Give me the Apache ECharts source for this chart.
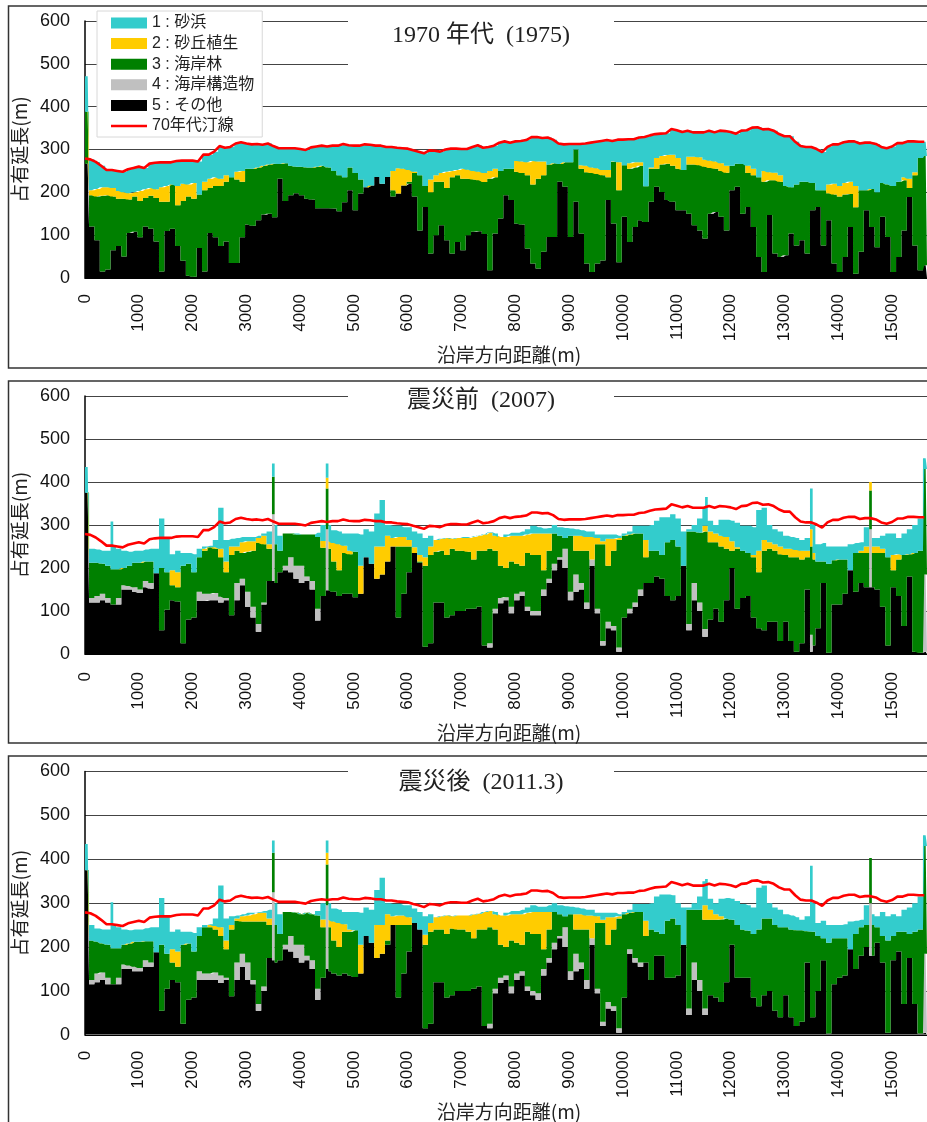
<!DOCTYPE html>
<html><head><meta charset="utf-8">
<script src="https://cdn.jsdelivr.net/npm/echarts@6/dist/echarts.min.js"></script>
<style>html,body{margin:0;padding:0;background:#fff}#c{width:927px;height:1122px}</style>
</head><body><div id="c"></div>
<script>
// readings every 100 m, 0 .. 15600 m; each is the running top of a stacked layer (m). 0 = layer absent.
const shoreline70=[279,277,271,262,252,252,250,248,254,257,
260,257,267,269,270,270,270,273,274,274,
274,272,288,288,295,308,304,306,314,317,
314,312,313,311,314,308,303,303,303,303,
301,299,305,307,309,307,309,309,313,310,
309,309,312,311,309,309,306,306,304,303,
302,298,295,291,298,297,295,300,302,302,
301,301,306,310,304,306,309,316,319,316,
319,320,322,329,329,327,328,323,314,312,
313,313,313,314,316,318,320,322,320,323,
323,324,324,328,329,333,336,337,338,348,
345,341,344,340,340,340,344,340,344,343,
341,337,344,345,351,352,347,348,344,336,
331,331,318,308,306,306,301,294,306,312,
312,317,319,319,314,316,316,313,306,303,
307,315,315,319,319,318,318];

const black1=[160,120,88,15,20,65,75,50,105,108,
95,120,115,85,15,110,115,75,40,5,
3,70,15,105,95,75,85,35,35,95,
125,122,135,148,150,142,232,180,193,198,
193,185,183,163,163,163,162,156,177,205,
158,197,212,216,236,220,236,190,197,216,
220,190,111,166,57,100,123,88,57,84,
65,100,108,109,103,18,104,139,193,182,
127,125,69,34,22,61,96,96,225,213,
96,178,104,34,14,34,41,182,127,37,
143,84,119,135,131,178,213,201,182,178,
158,158,150,123,111,92,150,154,143,111,
205,213,150,166,119,49,14,147,57,49,
53,104,76,88,57,158,166,76,135,34,
14,49,119,10,61,158,119,72,143,96,
14,49,111,189,76,18,30];
const green1=[200,193,190,192,193,190,185,185,183,190,
180,187,192,187,178,178,218,170,180,190,
185,195,205,210,215,215,225,235,230,225,
255,255,258,262,265,267,266,268,262,260,
260,258,258,260,262,258,250,240,235,258,
245,230,200,210,215,220,225,205,190,200,
225,245,240,215,200,225,225,210,235,240,
232,232,230,228,224,232,235,250,255,255,
248,245,240,218,232,240,265,268,266,270,
270,300,255,247,245,243,240,235,271,205,
263,255,258,262,214,255,255,265,267,262,
255,252,265,265,263,260,257,255,250,246,
262,267,266,245,240,235,225,228,228,225,
215,212,218,225,225,222,205,205,198,195,
190,195,196,165,205,205,208,200,222,218,
215,225,228,210,240,280,285];
const yellow1=[210,205,208,212,212,210,203,200,198,200,
203,207,210,207,212,215,218,215,220,218,
222,195,225,232,235,232,240,235,248,250,
0,0,0,0,0,0,0,0,0,0,
0,0,0,0,0,0,0,0,0,0,
0,0,0,0,0,0,0,250,256,255,
252,248,235,215,230,240,245,248,250,252,
255,253,250,248,245,250,255,0,0,0,
273,272,270,273,272,272,0,0,0,0,
0,0,263,262,258,256,252,252,272,270,
0,268,270,270,0,258,280,285,287,288,
280,0,283,283,282,276,274,272,268,262,
0,0,0,262,255,0,250,247,246,240,
0,0,0,0,0,0,0,0,218,220,
215,222,225,215,0,0,0,0,0,0,
0,0,235,232,247,0,0];
const grey1=black1;
const cyan1=shoreline70;
// narrow features, one 50 m bin wide: [bin, black, grey, green, yellow, cyan]; null keeps the reading
const narrow1=[[0,267,267,388,388,471],[1,267,267,388,388,471]];

const black2=[170,120,120,125,120,115,115,150,150,145,
142,155,152,188,55,103,125,122,25,80,
85,123,123,125,125,120,125,90,125,160,
110,85,52,115,170,165,190,195,190,175,
165,170,150,78,135,148,145,135,140,140,
132,140,225,210,175,185,215,250,85,140,
190,235,212,17,25,120,120,85,90,100,
100,105,105,110,20,15,95,118,125,95,
125,135,100,90,90,135,165,195,220,200,
125,145,150,105,205,95,20,60,55,5,
85,95,110,135,165,165,180,175,135,125,
135,205,55,125,100,40,80,105,75,125,
200,105,130,135,85,60,55,75,75,30,
75,30,5,25,150,20,60,165,3,115,
115,140,195,145,165,155,155,150,110,20,
155,135,65,180,5,3,3];
const grey2=[0,130,135,140,130,0,130,160,158,155,
150,170,165,0,0,0,0,0,0,0,
0,145,140,140,142,133,130,0,165,175,
145,110,70,120,0,0,0,205,225,205,
205,180,170,105,0,0,0,0,0,0,
0,0,0,0,0,0,0,0,0,0,
0,0,0,0,0,0,0,0,0,0,
0,0,0,0,0,25,105,130,132,110,
140,145,110,100,100,150,175,210,225,245,
145,185,165,120,220,105,30,75,65,15,
0,105,120,150,0,0,0,0,0,0,
0,0,70,165,120,58,0,0,0,0,
0,0,0,0,0,0,0,0,0,0,
0,0,0,0,0,0,0,0,0,0,
0,0,0,0,0,0,0,0,0,0,
0,0,0,0,0,0,0];
const green2=[195,212,212,210,205,197,197,200,205,212,
212,215,215,188,200,190,160,155,205,210,
190,225,240,248,245,225,190,230,240,235,
238,240,258,255,245,255,240,280,280,278,
278,278,278,272,247,245,215,195,235,232,
238,140,225,210,175,185,215,250,250,250,
250,235,215,205,230,238,240,230,245,240,
240,238,220,240,240,245,240,205,200,215,
210,205,235,230,230,195,240,280,275,270,
275,240,240,240,220,255,255,205,240,265,
275,278,280,280,225,240,240,230,260,265,
250,205,285,285,282,285,260,260,250,245,
240,245,240,235,225,190,240,245,240,232,
230,225,225,220,225,220,215,215,210,218,
220,220,195,235,235,235,235,235,235,225,
195,220,230,232,235,240,240];
const yellow2=[0,0,0,0,0,0,0,0,0,0,
0,0,0,0,0,0,195,190,0,0,
0,0,245,248,248,245,215,250,250,260,
262,262,270,275,255,0,0,0,0,0,
0,0,0,0,263,262,258,255,252,240,
0,205,0,0,250,250,275,270,272,272,
265,248,230,225,250,265,268,270,268,270,
270,270,272,275,278,282,275,272,272,275,
275,275,278,280,280,280,280,0,0,0,
275,275,275,272,272,270,262,268,268,270,
0,0,0,0,265,0,0,0,0,0,
0,0,0,0,0,298,285,280,275,272,
262,248,0,0,230,240,265,260,255,250,
245,245,242,240,240,235,0,0,0,0,
0,0,0,0,240,250,250,250,245,0,
230,232,0,0,0,0,0];
const cyan2=[235,245,243,240,240,250,245,240,238,240,
240,243,245,245,315,270,232,240,235,235,
232,245,250,252,265,340,265,268,270,272,
272,272,275,280,285,300,275,280,280,280,
278,278,278,282,300,300,288,285,280,280,
280,278,290,285,327,358,300,298,298,295,
295,285,280,270,275,265,268,270,268,270,
272,272,274,276,278,283,280,272,278,282,
282,285,290,298,295,292,293,300,295,293,
292,290,288,285,285,278,278,278,278,275,
280,285,298,298,298,300,310,318,318,325,
315,285,290,300,315,340,310,300,312,312,
310,305,298,298,295,335,340,300,290,285,
275,272,270,265,270,300,255,258,250,250,
250,250,255,258,260,295,270,270,275,280,
280,270,280,290,300,315,330];
const narrow2=[[0,375,375,375,375,435],[1,375,375,375,375,435],[10,null,null,null,null,308],[70,170,325,412,412,443],[90,148,290,385,410,443],
[231,40,58,285,298,365],[270,5,45,250,290,385],[292,155,290,380,400,400],
[312,5,185,430,430,455],[313,5,185,430,430,455]];

const black3=[170,115,120,125,115,115,115,150,150,145,
145,155,155,188,55,105,125,120,25,80,
85,125,125,125,125,118,125,88,125,155,
125,115,55,100,175,165,170,195,190,175,
165,170,150,80,130,145,140,135,140,135,
132,140,225,210,175,185,205,250,85,140,
190,255,240,15,25,120,120,85,90,100,
100,100,105,110,20,15,95,118,125,95,
125,135,100,90,80,135,165,195,220,200,
125,145,150,105,205,95,20,60,55,5,
85,185,165,155,165,125,180,180,130,130,
135,205,45,125,100,45,90,85,75,120,
205,130,130,130,85,65,90,100,55,40,
90,40,20,30,165,40,100,170,3,115,
130,135,195,150,180,200,180,210,165,5,
170,190,70,175,70,3,3];
const grey3=[0,125,140,142,130,0,130,160,158,155,
152,170,165,0,0,0,0,0,0,0,
0,145,140,140,142,135,130,0,165,185,
165,125,70,110,0,0,0,205,225,205,
205,180,170,105,0,0,0,0,0,0,
0,0,0,0,0,0,0,0,0,0,
0,0,0,0,0,0,0,0,0,0,
0,0,0,0,0,25,105,130,135,110,
140,145,110,100,95,150,175,210,225,245,
145,185,165,125,220,105,30,75,65,15,
0,195,175,165,0,0,0,0,0,0,
0,0,60,165,125,60,0,0,0,0,
0,0,0,0,0,0,0,0,0,0,
0,0,0,0,0,0,0,0,0,0,
0,0,0,0,0,0,0,0,0,0,
0,0,0,0,0,0,0];
const green3=[195,215,212,208,205,197,197,205,208,212,
212,213,213,188,205,185,165,155,205,208,
190,225,245,245,240,225,195,240,260,258,
258,258,258,258,250,250,230,280,280,278,
275,278,275,272,245,245,215,200,235,235,
238,140,225,210,175,185,215,250,250,250,
250,250,225,205,235,240,240,230,242,240,
240,235,220,240,240,245,240,205,200,215,
210,205,235,230,230,195,240,280,275,270,
275,240,240,240,220,255,255,205,240,265,
275,278,280,280,225,240,235,230,260,265,
250,205,285,285,285,262,262,262,263,265,
262,250,240,237,230,240,265,265,250,245,
245,240,238,238,236,235,225,220,210,220,
220,220,195,230,245,250,250,245,225,215,
225,235,235,230,235,240,240];
const yellow3=[0,0,0,0,0,0,0,0,0,0,
0,0,0,0,0,0,195,190,0,0,
0,0,245,250,248,245,215,250,265,270,
272,275,278,278,265,0,0,0,0,0,
0,0,0,0,263,262,258,255,252,240,
0,205,0,0,250,250,275,270,272,272,
268,250,235,228,255,268,270,272,270,272,
272,272,274,276,280,282,275,272,272,275,
275,275,278,280,280,280,280,0,0,0,
275,275,275,272,272,270,262,268,268,270,
0,0,0,0,260,0,0,0,0,0,
0,0,0,0,0,295,285,275,270,265,
0,0,0,0,0,0,0,0,0,0,
0,0,0,0,0,0,0,0,0,0,
0,0,0,0,0,0,0,0,0,0,
0,0,0,0,0,0,0];
const cyan3=[235,250,242,240,240,252,245,240,238,240,
240,243,245,245,312,270,235,240,235,235,
232,245,250,252,265,340,265,270,272,275,
278,278,280,282,285,300,275,280,280,278,
275,278,275,282,300,300,288,285,280,280,
280,278,290,285,330,358,300,298,298,295,
295,288,280,270,275,268,270,272,270,272,
272,272,274,276,280,282,280,272,278,282,
282,285,290,295,292,292,295,300,295,293,
292,290,288,285,285,278,278,278,278,275,
280,285,298,298,298,300,315,320,320,318,
300,290,290,300,315,350,310,300,310,312,
310,305,298,295,290,335,340,300,290,285,
275,272,268,262,270,300,255,260,250,250,
250,252,258,260,262,295,275,270,280,270,
275,270,285,290,300,315,330];
const narrow3=[[0,375,375,375,375,435],[1,375,375,375,375,435],[10,null,null,null,null,302],[70,170,325,415,415,443],[90,150,295,388,415,443],
[231,null,null,null,null,355],[270,null,null,null,null,385],[292,180,300,403,403,403],
[312,5,185,430,430,455],[313,5,185,430,430,455]];

const layerNames=['5 : その他','4 : 海岸構造物','3 : 海岸林','2 : 砂丘植生','1 : 砂浜'];
const layerColors=['#000000','#c0c0c0','#008000','#ffcc00','#33cccc'];
const lineName='70年代汀線';
const legendOrder=['1 : 砂浜','2 : 砂丘植生','3 : 海岸林','4 : 海岸構造物','5 : その他'];
const titles=['1970 年代  (1975)','震災前  (2007)','震災後  (2011.3)'];
const yTicks=[0,100,200,300,400,500,600];
const xName='沿岸方向距離(m)', yName='占有延長(m)';

const BINS=shoreline70.length*2;
const cats=Array.from({length:BINS},(_,i)=>String(i*50));
const panels=[
 {tops:[black1,grey1,green1,yellow1,cyan1],narrow:narrow1,top:21,h:257,w:850,xGap:67,lm:16,tY:19,box:[15,55]},
 {tops:[black2,grey2,green2,yellow2,cyan2],narrow:narrow2,top:396,h:258,w:845,xGap:63,lm:18,tY:384,box:[390,30]},
 {tops:[black3,grey3,green3,yellow3,cyan3],narrow:narrow3,top:771.5,h:264.5,w:845,xGap:62,lm:16,tY:766,box:[765,35]}
];
const FONT='"Liberation Sans",Arial,"Noto Sans CJK JP",sans-serif';
const grid=[],xAxis=[],yAxis=[],series=[],graphic=[],title=[];
panels.forEach((p,pi)=>{
  grid.push({left:85,top:p.top,width:p.w,height:p.h,containLabel:false});
  xAxis.push({type:'category',gridIndex:pi,data:cats,boundaryGap:false,
    axisTick:{show:false},axisLine:{lineStyle:{color:'#000',width:1}},splitLine:{show:false},
    axisLabel:{rotate:90,margin:p.lm,color:'#111',fontSize:17,fontFamily:FONT,padding:[5,0,0,0],interval:(i)=>i%20===0},
    name:xName,nameLocation:'middle',nameGap:p.xGap,
    nameTextStyle:{color:'#222',fontSize:19,fontFamily:'"Noto Sans CJK JP"',verticalAlign:'top',padding:[0,0,0,6]}});
  yAxis.push({type:'value',gridIndex:pi,min:yTicks[0],max:yTicks[yTicks.length-1],interval:100,
    axisLine:{show:true,lineStyle:{color:'#000',width:1.5}},axisTick:{show:false},
    splitLine:{show:true,lineStyle:{color:'#444',width:1}},
    axisLabel:{color:'#111',fontSize:18,fontFamily:FONT,margin:15,padding:[3,0,0,0]},
    name:yName,nameLocation:'middle',nameGap:52,nameRotate:90,
    nameTextStyle:{color:'#222',fontSize:19,fontFamily:'"Noto Sans CJK JP"'}});
  // bin-level tops: each 100 m reading covers two 50 m bins
  const bins=p.tops.map(a=>{const o=[];a.forEach(v=>{o.push(v,v)});return o});
  p.narrow.forEach(n=>{for(let k=0;k<5;k++){if(n[k+1]!==null)bins[k][n[0]]=n[k+1]}});
  const prev=new Array(BINS).fill(0);
  bins.forEach((arr,k)=>{
    const d=arr.map((v,i)=>{const t=Math.max(prev[i],v);const th=t-prev[i];prev[i]=t;return th});
    series.push({type:'line',step:'middle',name:layerNames[k],stack:'s'+pi,xAxisIndex:pi,yAxisIndex:pi,data:d,
      symbol:'none',showSymbol:false,lineStyle:{width:0,color:layerColors[k]},
      areaStyle:{color:layerColors[k],opacity:1},itemStyle:{color:layerColors[k]},
      animation:false,z:2,silent:true});
  });
  const lineData=[];shoreline70.forEach(v=>{lineData.push(v,null)});
  series.push({type:'line',name:lineName,xAxisIndex:pi,yAxisIndex:pi,data:lineData,connectNulls:true,
    symbol:'none',showSymbol:false,lineStyle:{color:'#ff0000',width:2.6},itemStyle:{color:'#ff0000'},animation:false,z:5,silent:true});
  graphic.push({type:'rect',z:3,shape:{x:348,y:p.box[0],width:266,height:p.box[1]},style:{fill:'#fff'}});
  title.push({text:titles[pi],left:476,top:p.tY,textAlign:'center',z:10,
    textStyle:{fontFamily:'"Liberation Serif","Noto Sans CJK JP",serif',fontWeight:'normal',fontSize:24,color:'#222'}});
});
graphic.push({type:'rect',z:0,shape:{x:8.5,y:6,width:960,height:362},style:{fill:null,stroke:'#333',lineWidth:1.5}});
graphic.push({type:'rect',z:0,shape:{x:8.5,y:381,width:960,height:362},style:{fill:null,stroke:'#333',lineWidth:1.5}});
graphic.push({type:'rect',z:0,shape:{x:8.5,y:756,width:960,height:400},style:{fill:null,stroke:'#333',lineWidth:1.5}});
const chart=echarts.init(document.getElementById('c'),null,{renderer:'canvas'});
chart.setOption({animation:false,backgroundColor:'#fff',grid,xAxis,yAxis,series,graphic,title,
  legend:{orient:'vertical',left:97,top:11,padding:[4,8,3,14],itemGap:4.6,itemWidth:36,itemHeight:11,z:20,
    backgroundColor:'#fff',borderColor:'#d8d8d8',borderWidth:1,selectedMode:false,
    textStyle:{color:'#222',fontSize:16,fontFamily:'"Liberation Sans","Noto Sans CJK JP",sans-serif'},
    data:[...legendOrder.map(n=>({name:n,icon:'rect'})),{name:lineName,icon:'path://M0 0H36V2.6H0Z'}]}
});
</script></body></html>
